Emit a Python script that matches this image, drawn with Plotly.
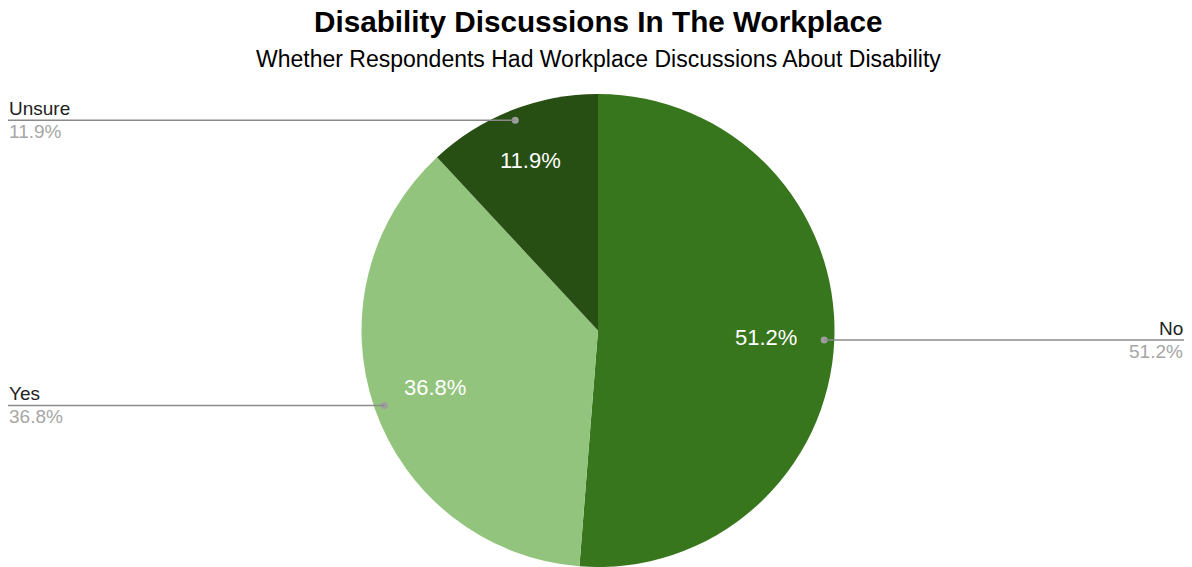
import math
import plotly.graph_objects as go

# Survey results
categories = ["No", "Yes", "Unsure"]
shares = [51.2, 36.8, 11.9]
colors = ["#38761d", "#93c47d", "#274e13"]

title = "Disability Discussions In The Workplace"
subtitle = "Whether Respondents Had Workplace Discussions About Disability"

W, H = 1192, 567
CX, CY = 598, 331          # pie centre in pixels (from top-left)
R = 237                    # pie radius in pixels
label_radius = [0.71, 0.73, 0.775]   # inside-label distance, as a fraction of R

FONT = "Liberation Sans, Arial"

fig = go.Figure()
fig.add_trace(go.Pie(
    labels=categories,
    values=shares,
    sort=False,
    direction="clockwise",
    rotation=0,
    marker=dict(colors=colors, line=dict(width=0)),
    textinfo="none",
    hoverinfo="label+percent",
    showlegend=False,
    domain=dict(x=[(CX - R) / W, (CX + R) / W],
                y=[max(0, (H - CY - R) / H), (H - CY + R) / H]),
))


def px(x):
    return x / W


def py(y):
    return (H - y) / H


total = sum(shares)
start = 0.0
annotations = []
shapes = []
for name, val, lr in zip(categories, shares, label_radius):
    mid = (start + val / 2) / total * 2 * math.pi  # clockwise from 12 o'clock
    start += val
    sx, sy = math.sin(mid), -math.cos(mid)

    # value label inside the slice
    ri = lr * R
    annotations.append(dict(
        x=px(CX + ri * sx), y=py(CY + ri * sy), xref="paper", yref="paper",
        xanchor="center", yanchor="middle",
        text=f"{val:.1f}%", showarrow=False,
        font=dict(family=FONT, size=22, color="white"),
    ))

    # leader dot and line to the edge
    dx, dy = CX + 0.955 * R * sx, CY + 0.955 * R * sy
    shapes.append(dict(type="circle", xref="paper", yref="paper",
                       x0=px(dx - 3.5), x1=px(dx + 3.5),
                       y0=py(dy + 3.5), y1=py(dy - 3.5),
                       fillcolor="#9e9e9e", line=dict(width=0)))
    right = sx > 0
    ex = W - 8 if right else 8
    shapes.append(dict(type="line", xref="paper", yref="paper",
                       x0=px(dx), x1=px(ex), y0=py(dy), y1=py(dy),
                       line=dict(color="#8a8a8a", width=1.5)))
    anchor = "right" if right else "left"
    annotations.append(dict(
        x=px(ex), y=py(dy), xref="paper", yref="paper",
        xanchor=anchor, yanchor="bottom", yshift=0,
        text=name, showarrow=False, borderpad=0,
        font=dict(family=FONT, size=19, color="#222222"),
    ))
    annotations.append(dict(
        x=px(ex), y=py(dy), xref="paper", yref="paper",
        xanchor=anchor, yanchor="top", yshift=0,
        text=f"{val:.1f}%", showarrow=False, borderpad=0,
        font=dict(family=FONT, size=19, color="#a6a6a6"),
    ))

annotations.append(dict(
    x=px(CX), y=py(21), xref="paper", yref="paper", showarrow=False,
    xanchor="center", yanchor="middle",
    text=f"<b>{title}</b>",
    font=dict(family=FONT, size=29.7, color="black"),
))
annotations.append(dict(
    x=px(CX), y=py(59), xref="paper", yref="paper", showarrow=False,
    xanchor="center", yanchor="middle",
    text=subtitle,
    font=dict(family=FONT, size=23, color="black"),
))

fig.update_layout(
    width=W, height=H,
    margin=dict(l=0, r=0, t=0, b=0),
    paper_bgcolor="white", plot_bgcolor="white",
    annotations=annotations, shapes=shapes,
)

fig.write_html("out.html")
